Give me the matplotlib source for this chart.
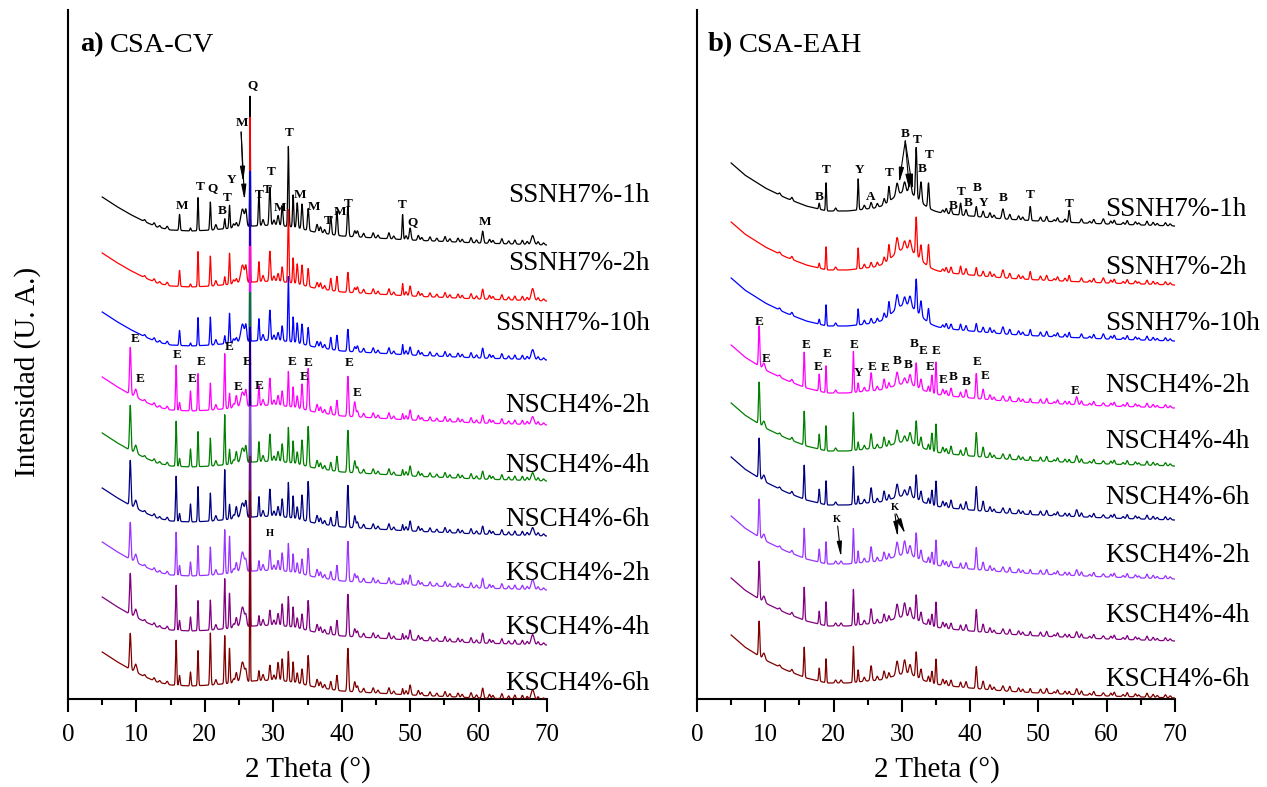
import numpy as np
import matplotlib
matplotlib.use("Agg")
import matplotlib.pyplot as plt

plt.rcParams['font.family'] = ['Liberation Serif', 'DejaVu Serif']

# ---------------- data ----------------
SAMPLES = ['SSNH7%-1h', 'SSNH7%-2h', 'SSNH7%-10h', 'NSCH4%-2h', 'NSCH4%-4h',
           'NSCH4%-6h', 'KSCH4%-2h', 'KSCH4%-4h', 'KSCH4%-6h']
COLORS = ['#000000', '#ff0000', '#0000ff', '#ff00ff', '#008000',
          '#000080', '#9933ff', '#800080', '#800000']
TWO_THETA = np.arange(5.0, 70.0001, 0.02)

# --- panel a) CSA-CV ---
A_BASE_2T = [5, 7, 9, 11, 13, 15, 18, 21, 24, 27, 30, 33, 36, 40, 45, 50, 60, 70]
A_BASE_DROP = [0, 9, 17, 24, 30, 33, 34, 33, 31, 29, 28, 30, 35, 39, 41, 43, 46, 48]
A_START = [197, 253, 312, 377, 433, 488, 542, 597, 652]
A_POS = [9.1, 9.9, 15.8, 16.3, 17.9, 19.0, 20.8, 22.9, 23.6, 24.6, 25.5, 26.0, 26.6,
         27.9, 29.5, 30.7, 31.3, 32.2, 32.9, 33.5, 34.2, 35.1, 36.4, 38.4, 39.3,
         40.9, 41.9, 48.9, 50.0, 60.6, 67.9]
A_WID = [0.25, 0.4, 0.2, 0.2, 0.2, 0.18, 0.2, 0.2, 0.2, 0.3, 0.6, 0.3, 0.12,
         0.2, 0.25, 0.3, 0.25, 0.2, 0.2, 0.25, 0.25, 0.25, 0.3, 0.25, 0.25,
         0.25, 0.3, 0.2, 0.3, 0.3, 0.5]
A_SSNH1 = [0, 0, 0, 16, 3, 33, 28, 10, 23, 5, 18, 15, 130, 35, 38, 10, 20, 80, 32, 25,
           25, 22, 8, 18, 24, 30, 6, 25, 12, 12, 9]
A_SSNH2 = [0, 0, 0, 16, 3, 35, 30, 8, 31, 5, 18, 15, 165, 20, 30, 8, 15, 73, 25, 20,
           20, 18, 6, 12, 15, 20, 5, 12, 10, 10, 12]
A_SSNH10 = [0, 0, 0, 15, 3, 28, 28, 8, 30, 5, 18, 15, 170, 22, 30, 8, 15, 65, 25, 20,
            20, 18, 6, 12, 15, 22, 5, 10, 8, 10, 10]
A_NSCH2 = [47, 8, 45, 8, 20, 37, 27, 55, 15, 12, 15, 15, 160, 20, 27, 10, 15, 35, 20, 12,
           25, 42, 8, 8, 15, 40, 15, 6, 10, 8, 8]
A_NSCH4 = [45, 8, 45, 8, 18, 35, 28, 50, 15, 12, 15, 15, 170, 20, 27, 10, 18, 35, 22, 12,
           25, 40, 8, 8, 15, 42, 12, 6, 10, 8, 8]
A_NSCH6 = [45, 8, 45, 8, 18, 35, 28, 50, 15, 12, 15, 15, 190, 20, 27, 10, 18, 35, 22, 12,
           25, 40, 8, 8, 15, 42, 12, 6, 10, 8, 8]
A_KSCH2 = [37, 8, 43, 10, 14, 30, 28, 44, 37, 10, 20, 10, 165, 10, 20, 10, 18, 28, 18, 10,
           15, 27, 8, 8, 15, 40, 8, 6, 10, 10, 10]
A_KSCH4 = [41, 8, 45, 10, 14, 30, 30, 50, 35, 10, 20, 10, 170, 10, 15, 12, 22, 30, 20, 10,
           15, 30, 8, 8, 15, 42, 8, 6, 10, 10, 10]
A_KSCH6 = [36, 8, 45, 10, 14, 35, 52, 48, 35, 10, 20, 10, 190, 10, 15, 18, 22, 30, 20, 10,
           15, 30, 8, 8, 15, 43, 10, 6, 10, 10, 10]
A_MINOR_POS = [11.2, 12.6, 13.4, 14.5, 21.6, 24.2, 28.5, 30.1, 36.9, 37.5, 42.3, 43.2,
               44.6, 45.3, 46.9, 47.6, 49.4, 51.2, 51.7, 52.9, 53.9, 55.1, 55.8, 57.0,
               57.6, 58.9, 59.7, 61.6, 62.1, 63.4, 64.4, 65.3, 66.4, 67.1, 68.7, 69.5]
A_MINOR_H = [2, 3, 2, 3, 5, 4, 6, 5, 6, 4, 6, 4, 5, 3, 6, 3, 4, 5, 3, 4, 3, 5, 3, 4,
             3, 5, 3, 4, 3, 5, 3, 4, 4, 3, 3, 2]

# --- panel b) CSA-EAH ---
B_BASE_2T = [5, 7, 10, 13, 16, 19, 22, 25, 28, 31, 34, 37, 40, 45, 50, 60, 70]
B_BASE_DROP = [0, 12, 25, 35, 43, 48, 48, 46, 46, 47, 49, 51, 53, 56, 58, 61, 63]
B_START = [163, 222, 278, 345, 403, 457, 516, 578, 635]
B_POS = [9.1, 9.8, 15.7, 17.9, 18.9, 21.1, 22.9, 23.6, 25.5, 27.4, 28.1, 29.3, 30.4,
         31.2, 32.1, 32.8, 33.9, 34.4, 35.0, 36.0, 37.2, 38.6, 39.4, 40.9, 41.9,
         44.8, 48.8, 54.5, 55.6, 59.5]
B_WID = [0.22, 0.4, 0.2, 0.2, 0.18, 0.3, 0.2, 0.2, 0.3, 0.3, 0.25, 0.4, 0.4,
         0.4, 0.25, 0.3, 0.25, 0.25, 0.22, 0.3, 0.3, 0.25, 0.3, 0.25, 0.3,
         0.35, 0.25, 0.25, 0.35, 0.35]
B_SSNH1 = [0, 0, 0, 6, 28, 0, 0, 31, 6, 6, 15, 12, 10, 12, 50, 20, 25, 0, 0, 3, 6, 12,
           6, 10, 6, 10, 14, 12, 0, 5]
B_SSNH2 = [0, 0, 0, 5, 23, 0, 0, 21, 5, 6, 15, 15, 8, 10, 38, 15, 22, 0, 0, 3, 6, 8,
           6, 8, 5, 8, 8, 6, 0, 5]
B_SSNH10 = [0, 0, 0, 5, 21, 0, 0, 16, 5, 6, 14, 14, 8, 10, 32, 15, 14, 0, 0, 3, 5, 6,
            5, 8, 5, 7, 6, 5, 0, 5]
B_NSCH2 = [40, 6, 35, 17, 27, 0, 41, 9, 18, 10, 5, 13, 6, 10, 24, 10, 6, 18, 32, 6, 8, 5,
           8, 25, 10, 5, 4, 3, 8, 3]
B_NSCH4 = [42, 6, 34, 15, 25, 0, 38, 8, 15, 10, 5, 13, 6, 10, 24, 10, 6, 18, 28, 6, 8, 5,
           8, 24, 10, 5, 4, 3, 7, 3]
B_NSCH6 = [40, 6, 34, 14, 24, 0, 38, 8, 15, 10, 5, 13, 6, 10, 24, 10, 6, 15, 25, 6, 8, 5,
           8, 24, 10, 5, 4, 3, 7, 3]
B_KSCH2 = [38, 6, 30, 13, 22, 3, 35, 12, 15, 8, 5, 14, 14, 10, 25, 10, 6, 12, 25, 6, 6, 5,
           6, 22, 8, 5, 4, 3, 6, 3]
B_KSCH4 = [38, 6, 33, 13, 24, 3, 36, 12, 15, 8, 5, 14, 14, 10, 25, 10, 6, 12, 25, 6, 6, 5,
           6, 22, 8, 5, 4, 3, 6, 3]
B_KSCH6 = [35, 6, 30, 13, 24, 3, 36, 12, 15, 8, 5, 14, 14, 10, 25, 10, 6, 12, 25, 6, 6, 5,
           6, 22, 8, 5, 4, 3, 6, 3]
B_HUMP = [18, 20, 20, 8, 8, 8, 8, 8, 8]
B_MINOR_POS = [12.1, 13.9, 20.3, 24.5, 26.4, 36.5, 42.9, 43.5, 45.8, 47.1, 47.7, 50.3,
               51.2, 52.3, 52.8, 53.9, 56.3, 57.5, 58.1, 60.6, 61.1, 62.4, 63.0, 64.2,
               64.7, 65.9, 66.8, 67.4, 68.6, 69.3]
B_MINOR_H = [2, 3, 3, 4, 4, 5, 5, 3, 5, 4, 3, 4, 5, 2, 4, 3, 4, 2, 4, 3, 4, 2, 4, 3,
             2, 4, 3, 2, 3, 2]

A_HEIGHTS = [A_SSNH1, A_SSNH2, A_SSNH10, A_NSCH2, A_NSCH4, A_NSCH6, A_KSCH2, A_KSCH4, A_KSCH6]
B_HEIGHTS = [B_SSNH1, B_SSNH2, B_SSNH10, B_NSCH2, B_NSCH4, B_NSCH6, B_KSCH2, B_KSCH4, B_KSCH6]

# phase labels (text, 2theta, pixel-y)
A_LABELS = [('M', 16.6, 206), ('T', 19.3, 187), ('Q', 21.1, 188), ('B', 22.6, 211),
            ('T', 23.2, 198), ('Y', 23.9, 180), ('M', 25.4, 123), ('Q', 27.0, 85),
            ('T', 27.9, 195), ('T', 29.1, 190), ('T', 29.7, 172), ('T', 32.3, 133),
            ('M', 31.0, 208), ('M', 33.9, 195), ('M', 35.9, 207), ('T', 38.1, 221),
            ('M', 39.7, 212), ('T', 40.9, 204), ('T', 48.9, 205), ('Q', 50.4, 222),
            ('M', 60.9, 222),
            ('E', 9.8, 339), ('E', 10.5, 379), ('E', 16.0, 355), ('E', 18.1, 379),
            ('E', 19.4, 362), ('E', 23.5, 347), ('E', 24.9, 387), ('E', 26.2, 362),
            ('E', 27.9, 386), ('E', 32.7, 362), ('E', 35.1, 363), ('E', 34.5, 377),
            ('E', 41.1, 363), ('E', 42.2, 393)]
B_LABELS = [('B', 17.9, 197), ('T', 19.0, 170), ('Y', 23.8, 170), ('A', 25.4, 197),
            ('T', 28.1, 173), ('B', 30.5, 134), ('T', 32.2, 140), ('B', 33.0, 169),
            ('T', 34.0, 155), ('B', 37.5, 206), ('T', 38.7, 192), ('B', 39.7, 203),
            ('B', 41.0, 188), ('Y', 41.9, 203), ('B', 44.8, 198), ('T', 48.8, 195),
            ('T', 54.5, 204),
            ('E', 9.1, 322), ('E', 10.1, 359), ('E', 16.0, 345), ('E', 17.8, 367),
            ('E', 19.0, 354), ('E', 23.0, 345), ('Y', 23.7, 373), ('E', 25.7, 367),
            ('E', 27.5, 368), ('B', 29.3, 361), ('B', 31.0, 365), ('B', 31.8, 344),
            ('E', 33.1, 351), ('E', 35.0, 351), ('E', 34.1, 367), ('E', 36.0, 380),
            ('B', 37.5, 377), ('B', 39.4, 382), ('E', 41.1, 362), ('E', 42.2, 376),
            ('E', 55.4, 391)]
A_SMALL = [('H', 29.5, 533)]
B_SMALL = [('K', 20.5, 519), ('K', 29.0, 507)]
A_ARROWS = [((25.3, 132), (25.6, 182)), ((25.3, 132), (25.8, 200))]
B_ARROWS = [((30.5, 141), (29.6, 183)), ((30.5, 141), (31.1, 190)), ((30.5, 141), (31.6, 190)),
            ((20.6, 526), (21.1, 557)), ((29.0, 514), (29.4, 537)), ((29.2, 514), (30.5, 534))]
A_LABEL_Y = [195, 264, 323, 405, 466, 520, 573, 627, 683]
B_LABEL_Y = [210, 268, 323, 385, 441, 498, 556, 615, 680]

# ---------------- layout ----------------
W, H = 1267, 787
BOT, TOP = 699, 10
fig = plt.figure(figsize=(W / 100, H / 100), dpi=100)
axA = fig.add_axes([68 / W, (H - BOT) / H, (547 - 68) / W, (BOT - TOP) / H])
axB = fig.add_axes([697 / W, (H - BOT) / H, (1175 - 697) / W, (BOT - TOP) / H])


def gauss(x, c, h, w):
    return h * np.exp(-4 * np.log(2) * ((x - c) / w) ** 2)


def trace(start, bx, bd, pos, wid, hts, mpos, mh, hump=0.0):
    y = (BOT - start) - np.interp(TWO_THETA, bx, bd)
    for c, w, h in zip(pos, wid, hts):
        if h:
            y = y + gauss(TWO_THETA, c, h, w)
    for c, h in zip(mpos, mh):
        y = y + gauss(TWO_THETA, c, h, 0.3)
    if hump:
        y = y + gauss(TWO_THETA, 30.6, hump, 4.5)
    return y


def py(p):
    return BOT - p


for ax, starts, bx, bd, pos, wid, heights, mpos, mh, humps in [
        (axA, A_START, A_BASE_2T, A_BASE_DROP, A_POS, A_WID, A_HEIGHTS, A_MINOR_POS, A_MINOR_H, [0] * 9),
        (axB, B_START, B_BASE_2T, B_BASE_DROP, B_POS, B_WID, B_HEIGHTS, B_MINOR_POS, B_MINOR_H, B_HUMP)]:
    for i in range(len(SAMPLES)):
        y = trace(starts[i], bx, bd, pos, wid, heights[i], mpos, mh, humps[i])
        ax.plot(TWO_THETA, y, color=COLORS[i], lw=0.9, zorder=2 + i)
    ax.set_xlim(0, 70)
    ax.set_ylim(0, BOT - TOP)
    ax.set_xticks(range(0, 71, 10))
    ax.set_xticks(range(5, 70, 10), minor=True)
    ax.set_yticks([])
    for s in ['top', 'right']:
        ax.spines[s].set_visible(False)
    for s in ['left', 'bottom']:
        ax.spines[s].set_linewidth(1.5)
    ax.tick_params(axis='x', which='major', length=9, width=1.5, direction='out',
                   labelsize=18, pad=9)
    ax.tick_params(axis='x', which='minor', length=4.5, width=1.5, direction='out')
    ax.patch.set_alpha(0)

# phase labels
for ax, labs, smalls, arrows in [(axA, A_LABELS, A_SMALL, A_ARROWS), (axB, B_LABELS, B_SMALL, B_ARROWS)]:
    for t, xv, yp in labs:
        ax.text(xv, py(yp), t, fontsize=9.5, fontweight='bold', ha='center', va='center', zorder=20)
    for t, xv, yp in smalls:
        ax.text(xv, py(yp), t, fontsize=7.5, fontweight='bold', ha='center', va='center', zorder=20)
    for (x0, y0), (x1, y1) in arrows:
        ax.annotate('', xy=(x1, py(y1)), xytext=(x0, py(y0)),
                    arrowprops=dict(arrowstyle='-|>,head_length=0.9,head_width=0.15',
                                    color='black', lw=0.8, shrinkA=0, shrinkB=0), zorder=20)

# sample labels
for i, name in enumerate(SAMPLES):
    axA.text((650 - 68) / 6.846, py(A_LABEL_Y[i]), name, fontsize=19.5, ha='right',
             va='center', clip_on=False, zorder=30)
    axB.text((1105 - 697) / 6.829, py(B_LABEL_Y[i]), name, fontsize=19.5, ha='left',
             va='center', clip_on=False, zorder=30)

# panel titles
for ax, x0, tag, title in [(axA, 80, 'a)', 'CSA-CV'), (axB, 708, 'b)', 'CSA-EAH')]:
    t1 = fig.text(x0 / W, 1 - 45 / H, tag, fontsize=20.5, fontweight='bold', va='center', ha='left')
    fig.canvas.draw()
    bb = t1.get_window_extent()
    fig.text((bb.x1 + 6) / W, 1 - 45 / H, title, fontsize=20.5, va='center', ha='left')

fig.text(308 / W, 1 - 770 / H, '2 Theta (\u00b0)', fontsize=21, ha='center', va='center')
fig.text(937 / W, 1 - 770 / H, '2 Theta (\u00b0)', fontsize=21, ha='center', va='center')
fig.text(28 / W, 1 - 372 / H, 'Intensidad (U. A.)', fontsize=21, ha='center', va='center',
         rotation=90)

fig.savefig('out.png', dpi=100)
